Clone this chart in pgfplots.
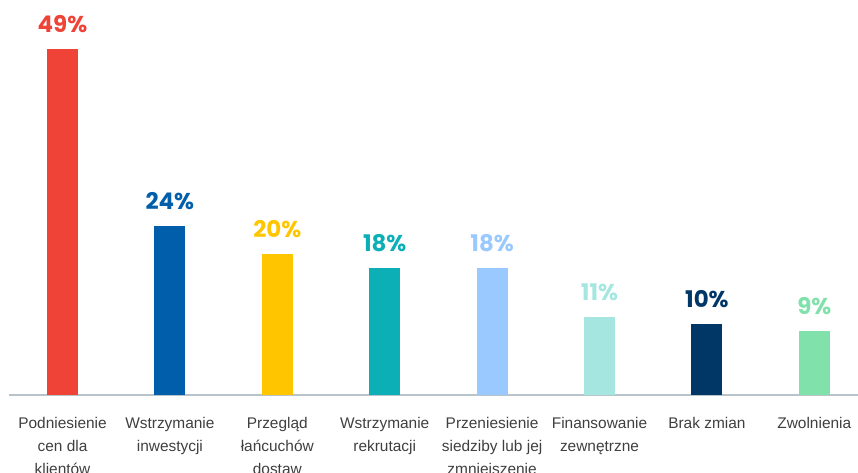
\documentclass[border=0pt]{standalone}
\usepackage{fontspec}
\setmainfont{Liberation Sans}
\newfontfamily\valfont{Poppins}
\usepackage{pgfplots}
\pgfplotsset{compat=1.18}
\definecolor{c1}{HTML}{EF4338}
\definecolor{c2}{HTML}{005EAB}
\definecolor{c3}{HTML}{FFC600}
\definecolor{c4}{HTML}{0CAFB6}
\definecolor{c5}{HTML}{9AC9FF}
\definecolor{c6}{HTML}{A5E6E0}
\definecolor{c7}{HTML}{003767}
\definecolor{c8}{HTML}{80E1AA}
\definecolor{axisgray}{HTML}{B9C3CA}
\definecolor{labelgray}{HTML}{3F3F3F}
\pgfplotsset{
  valbar/.style={ybar, bar width=31bp, fill=#1, draw=none,
    nodes near coords={\pgfmathprintnumber[fixed,precision=0]{\pgfplotspointmeta}\%},
    every node near coord/.style={text=#1, font=\valfont\bfseries\fontsize{23}{23}\selectfont, inner sep=0pt, anchor=south, yshift=16bp}},
}
\begin{document}
\begin{tikzpicture}
\path[use as bounding box, clip] (0,0) rectangle (858bp,473bp);
\begin{axis}[
  at={(8.8bp,78bp)}, anchor=south west,
  scale only axis, width=859.2bp, height=395bp,
  xmin=-0.5, xmax=7.5, ymin=0, ymax=55.94,
  axis x line*=bottom, axis y line=none,
  x axis line style={draw=axisgray, line width=2bp, -},
  xtick={0,...,7}, xtick style={draw=none}, major tick length=0pt,
  ytick=\empty,
  /pgf/number format/assume math mode=true,
  xticklabels={{Podniesienie\\cen dla\\klientów},{Wstrzymanie\\inwestycji},{Przegląd\\łańcuchów\\dostaw},{Wstrzymanie\\rekrutacji},{Przeniesienie\\siedziby lub jej\\zmniejszenie},{Finansowanie\\zewnętrzne},{Brak zmian},{Zwolnienia}},
  xticklabel style={font=\fontsize{15.5}{23}\selectfont, text=labelgray, align=center, anchor=north, inner sep=0pt, yshift=-22bp},
]
\addplot[valbar=c1] coordinates {(0,49)};
\addplot[valbar=c2] coordinates {(1,24)};
\addplot[valbar=c3] coordinates {(2,20)};
\addplot[valbar=c4] coordinates {(3,18)};
\addplot[valbar=c5] coordinates {(4,18)};
\addplot[valbar=c6] coordinates {(5,11)};
\addplot[valbar=c7] coordinates {(6,10)};
\addplot[valbar=c8] coordinates {(7,9)};
\end{axis}
\end{tikzpicture}
\end{document}
